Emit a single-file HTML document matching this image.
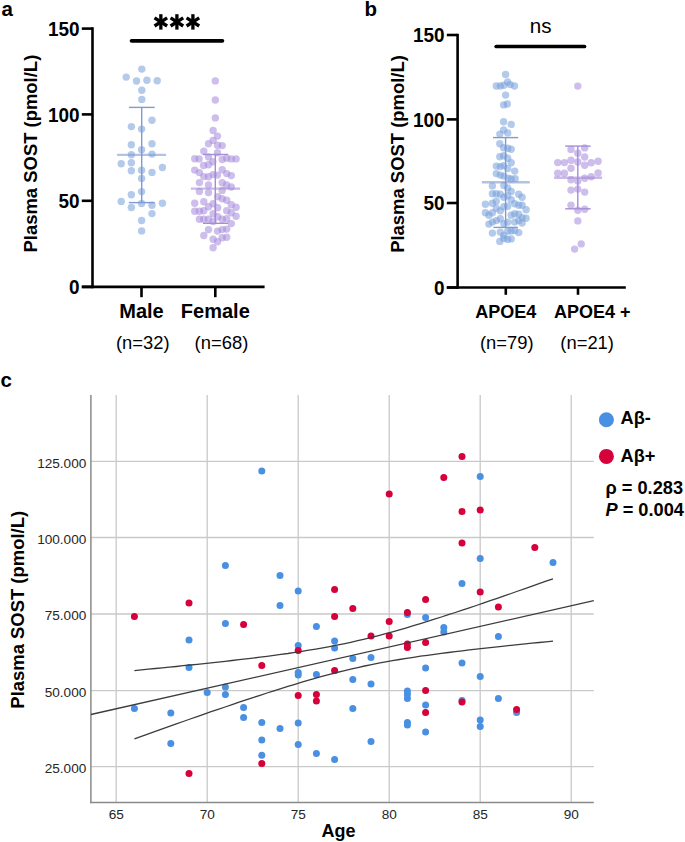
<!DOCTYPE html>
<html><head><meta charset="utf-8"><style>
html,body{margin:0;padding:0;background:#fff;}
body{width:685px;height:842px;overflow:hidden;font-family:"Liberation Sans",sans-serif;}
svg{display:block;}
</style></head><body>
<svg width="685" height="842" viewBox="0 0 685 842">
<rect width="685" height="842" fill="#fff"/>
<g font-family="Liberation Sans">
<text x="1.5" y="16.4" font-size="20.5" font-weight="bold" text-anchor="start" fill="#000" >a</text>
<line x1="92.5" y1="27.3" x2="92.5" y2="288.2" stroke="#000" stroke-width="2.6" stroke-linecap="butt"/>
<line x1="81.8" y1="28.6" x2="92.5" y2="28.6" stroke="#000" stroke-width="2.6" stroke-linecap="butt"/>
<text transform="translate(79.5,36.0) scale(0.92,1)" font-size="20.6" font-weight="bold" text-anchor="end">150</text>
<line x1="81.8" y1="114.4" x2="92.5" y2="114.4" stroke="#000" stroke-width="2.6" stroke-linecap="butt"/>
<text transform="translate(79.5,121.8) scale(0.92,1)" font-size="20.6" font-weight="bold" text-anchor="end">100</text>
<line x1="81.8" y1="200.8" x2="92.5" y2="200.8" stroke="#000" stroke-width="2.6" stroke-linecap="butt"/>
<text transform="translate(79.5,208.2) scale(0.92,1)" font-size="20.6" font-weight="bold" text-anchor="end">50</text>
<line x1="81.8" y1="286.9" x2="92.5" y2="286.9" stroke="#000" stroke-width="2.6" stroke-linecap="butt"/>
<text transform="translate(79.5,294.3) scale(0.92,1)" font-size="20.6" font-weight="bold" text-anchor="end">0</text>
<line x1="81.8" y1="286.9" x2="264.6" y2="286.9" stroke="#000" stroke-width="2.6" stroke-linecap="butt"/>
<line x1="141.5" y1="286.9" x2="141.5" y2="297.2" stroke="#000" stroke-width="2.6" stroke-linecap="butt"/>
<line x1="215.3" y1="286.9" x2="215.3" y2="297.2" stroke="#000" stroke-width="2.6" stroke-linecap="butt"/>
<text x="141.5" y="317.6" font-size="20" font-weight="bold" text-anchor="middle" fill="#000" >Male</text>
<text x="215.3" y="317.6" font-size="20" font-weight="bold" text-anchor="middle" fill="#000" >Female</text>
<text x="116.0" y="348.6" font-size="18.4" font-weight="normal" text-anchor="start" fill="#000" >(n=32)</text>
<text x="194.6" y="348.6" font-size="18.4" font-weight="normal" text-anchor="start" fill="#000" >(n=68)</text>
<text transform="translate(36.6,153.6) rotate(-90)" font-size="18.45" font-weight="bold" text-anchor="middle">Plasma SOST (pmol/L)</text>
<line x1="131.6" y1="40.8" x2="222.4" y2="40.8" stroke="#000" stroke-width="3.8" stroke-linecap="round"/>
<line x1="160.85" y1="14.2" x2="160.85" y2="29.599999999999998" stroke="#000" stroke-width="3.3" stroke-linecap="butt"/>
<line x1="154.54999999999998" y1="17.808732162855684" x2="167.15" y2="25.991267837144314" stroke="#000" stroke-width="3.3" stroke-linecap="butt"/>
<line x1="154.54999999999998" y1="25.991267837144314" x2="167.15" y2="17.808732162855684" stroke="#000" stroke-width="3.3" stroke-linecap="butt"/>
<line x1="176.9" y1="14.2" x2="176.9" y2="29.599999999999998" stroke="#000" stroke-width="3.3" stroke-linecap="butt"/>
<line x1="170.6" y1="17.808732162855684" x2="183.20000000000002" y2="25.991267837144314" stroke="#000" stroke-width="3.3" stroke-linecap="butt"/>
<line x1="170.6" y1="25.991267837144314" x2="183.20000000000002" y2="17.808732162855684" stroke="#000" stroke-width="3.3" stroke-linecap="butt"/>
<line x1="192.9" y1="14.2" x2="192.9" y2="29.599999999999998" stroke="#000" stroke-width="3.3" stroke-linecap="butt"/>
<line x1="186.6" y1="17.808732162855684" x2="199.20000000000002" y2="25.991267837144314" stroke="#000" stroke-width="3.3" stroke-linecap="butt"/>
<line x1="186.6" y1="25.991267837144314" x2="199.20000000000002" y2="17.808732162855684" stroke="#000" stroke-width="3.3" stroke-linecap="butt"/>
<g fill="rgb(119,159,219)" fill-opacity="0.55">
<circle cx="141.8" cy="69.1" r="3.7"/>
<circle cx="126.2" cy="77.1" r="3.7"/>
<circle cx="136.5" cy="81.0" r="3.7"/>
<circle cx="146.9" cy="80.3" r="3.7"/>
<circle cx="157.2" cy="80.8" r="3.7"/>
<circle cx="141.8" cy="90.2" r="3.7"/>
<circle cx="141.8" cy="99.4" r="3.7"/>
<circle cx="152.0" cy="120.2" r="3.7"/>
<circle cx="131.35" cy="126.6" r="3.7"/>
<circle cx="141.6" cy="129.1" r="3.7"/>
<circle cx="131.35" cy="144.7" r="3.7"/>
<circle cx="152.0" cy="143.8" r="3.7"/>
<circle cx="141.6" cy="149.8" r="3.7"/>
<circle cx="131.35" cy="154.7" r="3.7"/>
<circle cx="152.0" cy="154.1" r="3.7"/>
<circle cx="121.2" cy="163.7" r="3.7"/>
<circle cx="131.35" cy="162.8" r="3.7"/>
<circle cx="162.4" cy="167.5" r="3.7"/>
<circle cx="131.35" cy="170.8" r="3.7"/>
<circle cx="141.6" cy="170.3" r="3.7"/>
<circle cx="152.0" cy="172.4" r="3.7"/>
<circle cx="141.6" cy="178.5" r="3.7"/>
<circle cx="141.6" cy="191.6" r="3.7"/>
<circle cx="131.35" cy="194.7" r="3.7"/>
<circle cx="121.2" cy="201.4" r="3.7"/>
<circle cx="141.6" cy="203.5" r="3.7"/>
<circle cx="152.0" cy="205.2" r="3.7"/>
<circle cx="162.4" cy="203.2" r="3.7"/>
<circle cx="131.35" cy="207.5" r="3.7"/>
<circle cx="152.0" cy="213.6" r="3.7"/>
<circle cx="141.6" cy="220.5" r="3.7"/>
<circle cx="141.6" cy="230.9" r="3.7"/>
</g>
<line x1="141.7" y1="107.4" x2="141.7" y2="202.6" stroke="#7f9bd0" stroke-width="1.4" stroke-linecap="butt"/>
<line x1="128.9" y1="107.4" x2="154.7" y2="107.4" stroke="#7f9bd0" stroke-width="1.4" stroke-linecap="butt"/>
<line x1="128.9" y1="202.6" x2="154.7" y2="202.6" stroke="#7f9bd0" stroke-width="1.4" stroke-linecap="butt"/>
<g opacity="0.6">
<line x1="117.1" y1="154.9" x2="166.1" y2="154.9" stroke="#7f9bd0" stroke-width="2.4" stroke-linecap="butt"/>
</g>
<g fill="rgb(164,137,219)" fill-opacity="0.55">
<circle cx="215.3" cy="80.9" r="3.7"/>
<circle cx="215.3" cy="100.0" r="3.7"/>
<circle cx="215.3" cy="117.9" r="3.7"/>
<circle cx="213.1" cy="130.5" r="3.7"/>
<circle cx="217.5" cy="136.1" r="3.7"/>
<circle cx="213.1" cy="140.4" r="3.7"/>
<circle cx="208.5" cy="143.8" r="3.7"/>
<circle cx="217.5" cy="145.3" r="3.7"/>
<circle cx="222.2" cy="145.6" r="3.7"/>
<circle cx="203.8" cy="151.3" r="3.7"/>
<circle cx="217.5" cy="152.8" r="3.7"/>
<circle cx="208.5" cy="156.9" r="3.7"/>
<circle cx="194.7" cy="158.7" r="3.7"/>
<circle cx="199.1" cy="158.9" r="3.7"/>
<circle cx="222.2" cy="159.5" r="3.7"/>
<circle cx="226.7" cy="158.2" r="3.7"/>
<circle cx="231.3" cy="158.9" r="3.7"/>
<circle cx="236.1" cy="158.9" r="3.7"/>
<circle cx="212.8" cy="161.7" r="3.7"/>
<circle cx="208.5" cy="164.7" r="3.7"/>
<circle cx="203.6" cy="165.5" r="3.7"/>
<circle cx="194.7" cy="170.1" r="3.7"/>
<circle cx="199.4" cy="172.6" r="3.7"/>
<circle cx="222.2" cy="169.7" r="3.7"/>
<circle cx="226.7" cy="173.6" r="3.7"/>
<circle cx="231.3" cy="175.6" r="3.7"/>
<circle cx="203.8" cy="176.6" r="3.7"/>
<circle cx="208.5" cy="176.8" r="3.7"/>
<circle cx="213.1" cy="174.6" r="3.7"/>
<circle cx="217.5" cy="175.1" r="3.7"/>
<circle cx="199.4" cy="182.6" r="3.7"/>
<circle cx="208.5" cy="185.0" r="3.7"/>
<circle cx="222.2" cy="182.8" r="3.7"/>
<circle cx="226.7" cy="185.0" r="3.7"/>
<circle cx="231.3" cy="187.0" r="3.7"/>
<circle cx="199.4" cy="191.4" r="3.7"/>
<circle cx="208.5" cy="192.6" r="3.7"/>
<circle cx="222.2" cy="190.4" r="3.7"/>
<circle cx="217.7" cy="196.8" r="3.7"/>
<circle cx="222.2" cy="198.8" r="3.7"/>
<circle cx="226.7" cy="200.3" r="3.7"/>
<circle cx="194.7" cy="203.3" r="3.7"/>
<circle cx="203.8" cy="201.8" r="3.7"/>
<circle cx="213.1" cy="203.8" r="3.7"/>
<circle cx="208.5" cy="206.7" r="3.7"/>
<circle cx="231.3" cy="204.8" r="3.7"/>
<circle cx="236.1" cy="207.2" r="3.7"/>
<circle cx="194.7" cy="211.2" r="3.7"/>
<circle cx="199.4" cy="211.2" r="3.7"/>
<circle cx="203.8" cy="210.7" r="3.7"/>
<circle cx="217.7" cy="207.7" r="3.7"/>
<circle cx="213.1" cy="213.7" r="3.7"/>
<circle cx="226.7" cy="210.7" r="3.7"/>
<circle cx="231.3" cy="212.7" r="3.7"/>
<circle cx="236.1" cy="216.2" r="3.7"/>
<circle cx="199.4" cy="219.2" r="3.7"/>
<circle cx="203.8" cy="219.2" r="3.7"/>
<circle cx="208.5" cy="219.2" r="3.7"/>
<circle cx="213.1" cy="221.6" r="3.7"/>
<circle cx="217.7" cy="216.7" r="3.7"/>
<circle cx="222.2" cy="219.2" r="3.7"/>
<circle cx="226.7" cy="218.7" r="3.7"/>
<circle cx="231.3" cy="223.6" r="3.7"/>
<circle cx="208.5" cy="229.6" r="3.7"/>
<circle cx="217.5" cy="231.1" r="3.7"/>
<circle cx="222.2" cy="229.6" r="3.7"/>
<circle cx="226.7" cy="229.1" r="3.7"/>
<circle cx="203.8" cy="235.5" r="3.7"/>
<circle cx="213.1" cy="239.3" r="3.7"/>
<circle cx="217.5" cy="241.8" r="3.7"/>
<circle cx="222.2" cy="237.8" r="3.7"/>
<circle cx="226.7" cy="237.3" r="3.7"/>
<circle cx="213.1" cy="247.7" r="3.7"/>
</g>
<line x1="215.3" y1="154.5" x2="215.3" y2="223.3" stroke="#a58cd7" stroke-width="1.4" stroke-linecap="butt"/>
<line x1="203.0" y1="154.5" x2="228.2" y2="154.5" stroke="#a58cd7" stroke-width="1.4" stroke-linecap="butt"/>
<line x1="203.0" y1="223.3" x2="228.2" y2="223.3" stroke="#a58cd7" stroke-width="1.4" stroke-linecap="butt"/>
<g opacity="0.6">
<line x1="190.9" y1="188.6" x2="240.1" y2="188.6" stroke="#a58cd7" stroke-width="2.4" stroke-linecap="butt"/>
</g>
<text x="364.5" y="16.4" font-size="20.5" font-weight="bold" text-anchor="start" fill="#000" >b</text>
<line x1="457.6" y1="33.8" x2="457.6" y2="288.8" stroke="#000" stroke-width="2.6" stroke-linecap="butt"/>
<line x1="446.8" y1="35.0" x2="457.6" y2="35.0" stroke="#000" stroke-width="2.6" stroke-linecap="butt"/>
<text transform="translate(444.6,42.4) scale(0.92,1)" font-size="20.6" font-weight="bold" text-anchor="end">150</text>
<line x1="446.8" y1="119.4" x2="457.6" y2="119.4" stroke="#000" stroke-width="2.6" stroke-linecap="butt"/>
<text transform="translate(444.6,126.8) scale(0.92,1)" font-size="20.6" font-weight="bold" text-anchor="end">100</text>
<line x1="446.8" y1="203.0" x2="457.6" y2="203.0" stroke="#000" stroke-width="2.6" stroke-linecap="butt"/>
<text transform="translate(444.6,210.4) scale(0.92,1)" font-size="20.6" font-weight="bold" text-anchor="end">50</text>
<line x1="446.8" y1="287.5" x2="457.6" y2="287.5" stroke="#000" stroke-width="2.6" stroke-linecap="butt"/>
<text transform="translate(444.6,294.9) scale(0.92,1)" font-size="20.6" font-weight="bold" text-anchor="end">0</text>
<line x1="446.8" y1="287.5" x2="625.8" y2="287.5" stroke="#000" stroke-width="2.6" stroke-linecap="butt"/>
<line x1="505.8" y1="287.5" x2="505.8" y2="294.8" stroke="#000" stroke-width="2.6" stroke-linecap="butt"/>
<line x1="578.0" y1="287.5" x2="578.0" y2="294.8" stroke="#000" stroke-width="2.6" stroke-linecap="butt"/>
<text x="505.8" y="318.2" font-size="18" font-weight="bold" text-anchor="middle" fill="#000" >APOE4</text>
<text x="554.0" y="318.2" font-size="18" font-weight="bold" text-anchor="start" fill="#000" >APOE4 +</text>
<text x="480.0" y="348.6" font-size="18.4" font-weight="normal" text-anchor="start" fill="#000" >(n=79)</text>
<text x="560.3" y="348.6" font-size="18.4" font-weight="normal" text-anchor="start" fill="#000" >(n=21)</text>
<text transform="translate(404.2,154) rotate(-90)" font-size="18.45" font-weight="bold" text-anchor="middle">Plasma SOST (pmol/L)</text>
<line x1="496.2" y1="46.5" x2="584.5" y2="46.5" stroke="#000" stroke-width="3.7" stroke-linecap="round"/>
<text x="540.6" y="33.3" font-size="20.6" font-weight="normal" text-anchor="middle" fill="#000" >ns</text>
<g fill="rgb(119,159,219)" fill-opacity="0.55">
<circle cx="505.6" cy="74.4" r="3.7"/>
<circle cx="507.6" cy="82.0" r="3.7"/>
<circle cx="496.3" cy="86.0" r="3.7"/>
<circle cx="500.3" cy="86.0" r="3.7"/>
<circle cx="503.8" cy="85.3" r="3.7"/>
<circle cx="510.2" cy="84.6" r="3.7"/>
<circle cx="514.5" cy="86.0" r="3.7"/>
<circle cx="505.6" cy="95.1" r="3.7"/>
<circle cx="503.6" cy="104.9" r="3.7"/>
<circle cx="507.3" cy="104.0" r="3.7"/>
<circle cx="503.6" cy="121.8" r="3.7"/>
<circle cx="511.2" cy="124.4" r="3.7"/>
<circle cx="503.6" cy="129.9" r="3.7"/>
<circle cx="507.7" cy="132.9" r="3.7"/>
<circle cx="499.8" cy="134.1" r="3.7"/>
<circle cx="499.8" cy="143.8" r="3.7"/>
<circle cx="503.6" cy="147.8" r="3.7"/>
<circle cx="507.7" cy="148.3" r="3.7"/>
<circle cx="511.2" cy="149.3" r="3.7"/>
<circle cx="499.8" cy="156.7" r="3.7"/>
<circle cx="503.6" cy="155.7" r="3.7"/>
<circle cx="507.7" cy="158.2" r="3.7"/>
<circle cx="511.2" cy="162.7" r="3.7"/>
<circle cx="496.3" cy="166.1" r="3.7"/>
<circle cx="500.3" cy="166.6" r="3.7"/>
<circle cx="503.6" cy="165.6" r="3.7"/>
<circle cx="507.7" cy="168.6" r="3.7"/>
<circle cx="514.7" cy="171.1" r="3.7"/>
<circle cx="496.3" cy="173.6" r="3.7"/>
<circle cx="500.3" cy="175.1" r="3.7"/>
<circle cx="503.8" cy="176.1" r="3.7"/>
<circle cx="508.2" cy="178.1" r="3.7"/>
<circle cx="511.2" cy="179.0" r="3.7"/>
<circle cx="515.2" cy="178.6" r="3.7"/>
<circle cx="492.4" cy="185.9" r="3.7"/>
<circle cx="503.8" cy="185.4" r="3.7"/>
<circle cx="507.7" cy="187.9" r="3.7"/>
<circle cx="511.2" cy="191.4" r="3.7"/>
<circle cx="492.4" cy="193.8" r="3.7"/>
<circle cx="496.3" cy="193.8" r="3.7"/>
<circle cx="500.3" cy="194.3" r="3.7"/>
<circle cx="503.8" cy="197.3" r="3.7"/>
<circle cx="507.7" cy="195.8" r="3.7"/>
<circle cx="518.7" cy="194.3" r="3.7"/>
<circle cx="522.1" cy="197.3" r="3.7"/>
<circle cx="485.4" cy="204.3" r="3.7"/>
<circle cx="492.4" cy="203.3" r="3.7"/>
<circle cx="496.3" cy="201.3" r="3.7"/>
<circle cx="511.2" cy="199.8" r="3.7"/>
<circle cx="514.7" cy="203.8" r="3.7"/>
<circle cx="518.7" cy="205.3" r="3.7"/>
<circle cx="522.1" cy="205.3" r="3.7"/>
<circle cx="503.8" cy="206.7" r="3.7"/>
<circle cx="507.7" cy="206.2" r="3.7"/>
<circle cx="526.1" cy="209.7" r="3.7"/>
<circle cx="496.3" cy="208.2" r="3.7"/>
<circle cx="500.3" cy="210.7" r="3.7"/>
<circle cx="485.4" cy="212.7" r="3.7"/>
<circle cx="488.9" cy="215.2" r="3.7"/>
<circle cx="492.4" cy="212.7" r="3.7"/>
<circle cx="511.2" cy="215.2" r="3.7"/>
<circle cx="514.7" cy="213.7" r="3.7"/>
<circle cx="518.7" cy="214.2" r="3.7"/>
<circle cx="522.1" cy="217.7" r="3.7"/>
<circle cx="526.1" cy="218.2" r="3.7"/>
<circle cx="488.9" cy="224.1" r="3.7"/>
<circle cx="492.4" cy="222.1" r="3.7"/>
<circle cx="496.3" cy="220.6" r="3.7"/>
<circle cx="500.3" cy="218.7" r="3.7"/>
<circle cx="503.8" cy="223.6" r="3.7"/>
<circle cx="507.7" cy="222.1" r="3.7"/>
<circle cx="514.7" cy="222.1" r="3.7"/>
<circle cx="518.7" cy="220.6" r="3.7"/>
<circle cx="522.1" cy="223.1" r="3.7"/>
<circle cx="492.4" cy="233.1" r="3.7"/>
<circle cx="500.3" cy="232.1" r="3.7"/>
<circle cx="507.7" cy="231.1" r="3.7"/>
<circle cx="511.2" cy="231.1" r="3.7"/>
<circle cx="514.7" cy="230.6" r="3.7"/>
<circle cx="518.7" cy="232.6" r="3.7"/>
<circle cx="503.8" cy="235.5" r="3.7"/>
<circle cx="499.8" cy="241.4" r="3.7"/>
<circle cx="503.8" cy="238.4" r="3.7"/>
<circle cx="507.7" cy="239.4" r="3.7"/>
<circle cx="511.2" cy="238.9" r="3.7"/>
</g>
<line x1="505.6" y1="137.6" x2="505.6" y2="227.4" stroke="#7f9bd0" stroke-width="1.4" stroke-linecap="butt"/>
<line x1="493.0" y1="137.6" x2="518.2" y2="137.6" stroke="#7f9bd0" stroke-width="1.4" stroke-linecap="butt"/>
<line x1="493.4" y1="227.4" x2="517.9" y2="227.4" stroke="#7f9bd0" stroke-width="1.4" stroke-linecap="butt"/>
<g opacity="0.6">
<line x1="481.9" y1="182.3" x2="529.8" y2="182.3" stroke="#7f9bd0" stroke-width="2.4" stroke-linecap="butt"/>
</g>
<g fill="rgb(164,137,219)" fill-opacity="0.55">
<circle cx="577.8" cy="86.1" r="3.7"/>
<circle cx="571.0" cy="149.4" r="3.7"/>
<circle cx="584.7" cy="147.9" r="3.7"/>
<circle cx="577.8" cy="153.3" r="3.7"/>
<circle cx="584.7" cy="157.0" r="3.7"/>
<circle cx="557.7" cy="162.6" r="3.7"/>
<circle cx="564.4" cy="162.6" r="3.7"/>
<circle cx="571.0" cy="160.3" r="3.7"/>
<circle cx="577.8" cy="162.0" r="3.7"/>
<circle cx="584.7" cy="165.3" r="3.7"/>
<circle cx="591.2" cy="162.8" r="3.7"/>
<circle cx="598.1" cy="161.3" r="3.7"/>
<circle cx="571.0" cy="168.2" r="3.7"/>
<circle cx="557.7" cy="173.2" r="3.7"/>
<circle cx="564.4" cy="173.2" r="3.7"/>
<circle cx="598.1" cy="172.9" r="3.7"/>
<circle cx="571.0" cy="179.7" r="3.7"/>
<circle cx="577.8" cy="181.1" r="3.7"/>
<circle cx="584.7" cy="178.2" r="3.7"/>
<circle cx="591.2" cy="176.7" r="3.7"/>
<circle cx="571.0" cy="190.1" r="3.7"/>
<circle cx="577.8" cy="189.1" r="3.7"/>
<circle cx="584.7" cy="192.1" r="3.7"/>
<circle cx="571.0" cy="205.3" r="3.7"/>
<circle cx="577.8" cy="210.3" r="3.7"/>
<circle cx="584.7" cy="209.3" r="3.7"/>
<circle cx="577.8" cy="220.9" r="3.7"/>
<circle cx="581.2" cy="243.9" r="3.7"/>
<circle cx="574.6" cy="249.1" r="3.7"/>
</g>
<line x1="577.8" y1="146.1" x2="577.8" y2="208.8" stroke="#a58cd7" stroke-width="1.4" stroke-linecap="butt"/>
<line x1="565.2" y1="146.1" x2="590.6" y2="146.1" stroke="#a58cd7" stroke-width="1.4" stroke-linecap="butt"/>
<line x1="565.2" y1="208.8" x2="590.6" y2="208.8" stroke="#a58cd7" stroke-width="1.4" stroke-linecap="butt"/>
<g opacity="0.6">
<line x1="554.1" y1="177.7" x2="602.1" y2="177.7" stroke="#a58cd7" stroke-width="2.4" stroke-linecap="butt"/>
</g>
<text x="0.5" y="386.9" font-size="20.5" font-weight="bold" text-anchor="start" fill="#000" >c</text>
<line x1="116.2" y1="395.0" x2="116.2" y2="802.6" stroke="#c9c9c9" stroke-width="1.3" stroke-linecap="butt"/>
<line x1="207.2" y1="395.0" x2="207.2" y2="802.6" stroke="#c9c9c9" stroke-width="1.3" stroke-linecap="butt"/>
<line x1="298.2" y1="395.0" x2="298.2" y2="802.6" stroke="#c9c9c9" stroke-width="1.3" stroke-linecap="butt"/>
<line x1="389.2" y1="395.0" x2="389.2" y2="802.6" stroke="#c9c9c9" stroke-width="1.3" stroke-linecap="butt"/>
<line x1="480.2" y1="395.0" x2="480.2" y2="802.6" stroke="#c9c9c9" stroke-width="1.3" stroke-linecap="butt"/>
<line x1="571.2" y1="395.0" x2="571.2" y2="802.6" stroke="#c9c9c9" stroke-width="1.3" stroke-linecap="butt"/>
<line x1="90.9" y1="461.3" x2="593.8" y2="461.3" stroke="#c9c9c9" stroke-width="1.3" stroke-linecap="butt"/>
<text x="86.3" y="467.6" font-size="13.6" font-weight="normal" text-anchor="end" fill="#262626" >125.000</text>
<line x1="90.9" y1="537.5" x2="593.8" y2="537.5" stroke="#c9c9c9" stroke-width="1.3" stroke-linecap="butt"/>
<text x="86.3" y="543.8" font-size="13.6" font-weight="normal" text-anchor="end" fill="#262626" >100.000</text>
<line x1="90.9" y1="614.0" x2="593.8" y2="614.0" stroke="#c9c9c9" stroke-width="1.3" stroke-linecap="butt"/>
<text x="86.3" y="620.3" font-size="13.6" font-weight="normal" text-anchor="end" fill="#262626" >75.000</text>
<line x1="90.9" y1="690.6" x2="593.8" y2="690.6" stroke="#c9c9c9" stroke-width="1.3" stroke-linecap="butt"/>
<text x="86.3" y="696.9" font-size="13.6" font-weight="normal" text-anchor="end" fill="#262626" >50.000</text>
<line x1="90.9" y1="766.6" x2="593.8" y2="766.6" stroke="#c9c9c9" stroke-width="1.3" stroke-linecap="butt"/>
<text x="86.3" y="772.9" font-size="13.6" font-weight="normal" text-anchor="end" fill="#262626" >25.000</text>
<line x1="90.9" y1="395.0" x2="90.9" y2="803.3000000000001" stroke="#8a8a8a" stroke-width="1.5" stroke-linecap="butt"/>
<line x1="90.2" y1="802.6" x2="593.8" y2="802.6" stroke="#8a8a8a" stroke-width="1.5" stroke-linecap="butt"/>
<text x="116.2" y="819.1" font-size="13.6" font-weight="normal" text-anchor="middle" fill="#262626" >65</text>
<text x="207.2" y="819.1" font-size="13.6" font-weight="normal" text-anchor="middle" fill="#262626" >70</text>
<text x="298.2" y="819.1" font-size="13.6" font-weight="normal" text-anchor="middle" fill="#262626" >75</text>
<text x="389.2" y="819.1" font-size="13.6" font-weight="normal" text-anchor="middle" fill="#262626" >80</text>
<text x="480.2" y="819.1" font-size="13.6" font-weight="normal" text-anchor="middle" fill="#262626" >85</text>
<text x="571.2" y="819.1" font-size="13.6" font-weight="normal" text-anchor="middle" fill="#262626" >90</text>
<text x="338.6" y="836.6" font-size="18" font-weight="bold" text-anchor="middle" fill="#000" >Age</text>
<text transform="translate(23.9,609.8) rotate(-90)" font-size="18.45" font-weight="bold" text-anchor="middle">Plasma SOST (pmol/L)</text>
<g fill="#4a90e2">
<circle cx="134.4" cy="708.6" r="3.5"/>
<circle cx="170.8" cy="713" r="3.5"/>
<circle cx="170.8" cy="743.6" r="3.5"/>
<circle cx="189.0" cy="640" r="3.5"/>
<circle cx="189.0" cy="667.4" r="3.5"/>
<circle cx="207.2" cy="692.6" r="3.5"/>
<circle cx="225.4" cy="565.6" r="3.5"/>
<circle cx="225.4" cy="623.4" r="3.5"/>
<circle cx="225.4" cy="687" r="3.5"/>
<circle cx="225.4" cy="694.6" r="3.5"/>
<circle cx="243.6" cy="707.6" r="3.5"/>
<circle cx="243.6" cy="717.6" r="3.5"/>
<circle cx="261.8" cy="471" r="3.5"/>
<circle cx="261.8" cy="722.6" r="3.5"/>
<circle cx="261.8" cy="740" r="3.5"/>
<circle cx="261.8" cy="755.2" r="3.5"/>
<circle cx="280.0" cy="575.6" r="3.5"/>
<circle cx="280.0" cy="605.6" r="3.5"/>
<circle cx="280.0" cy="728.6" r="3.5"/>
<circle cx="298.2" cy="591" r="3.5"/>
<circle cx="298.2" cy="645.6" r="3.5"/>
<circle cx="298.2" cy="672.4" r="3.5"/>
<circle cx="298.2" cy="675" r="3.5"/>
<circle cx="298.2" cy="723" r="3.5"/>
<circle cx="298.2" cy="744.6" r="3.5"/>
<circle cx="316.4" cy="626.6" r="3.5"/>
<circle cx="316.4" cy="674.4" r="3.5"/>
<circle cx="316.4" cy="753.6" r="3.5"/>
<circle cx="334.6" cy="641" r="3.5"/>
<circle cx="334.6" cy="648" r="3.5"/>
<circle cx="334.6" cy="759.4" r="3.5"/>
<circle cx="352.8" cy="658.6" r="3.5"/>
<circle cx="352.8" cy="679.6" r="3.5"/>
<circle cx="352.8" cy="708.4" r="3.5"/>
<circle cx="371.0" cy="657.6" r="3.5"/>
<circle cx="371.0" cy="684" r="3.5"/>
<circle cx="371.0" cy="741.4" r="3.5"/>
<circle cx="407.4" cy="614.4" r="3.5"/>
<circle cx="407.4" cy="691" r="3.5"/>
<circle cx="407.4" cy="694.4" r="3.5"/>
<circle cx="407.4" cy="698.4" r="3.5"/>
<circle cx="407.4" cy="722.6" r="3.5"/>
<circle cx="407.4" cy="725" r="3.5"/>
<circle cx="425.6" cy="617.4" r="3.5"/>
<circle cx="425.6" cy="668" r="3.5"/>
<circle cx="425.6" cy="705" r="3.5"/>
<circle cx="425.6" cy="732" r="3.5"/>
<circle cx="443.8" cy="627.4" r="3.5"/>
<circle cx="443.8" cy="632" r="3.5"/>
<circle cx="462.0" cy="583.6" r="3.5"/>
<circle cx="462.0" cy="663" r="3.5"/>
<circle cx="462.0" cy="700.6" r="3.5"/>
<circle cx="480.2" cy="476.6" r="3.5"/>
<circle cx="480.2" cy="558.4" r="3.5"/>
<circle cx="480.2" cy="676.4" r="3.5"/>
<circle cx="480.2" cy="720" r="3.5"/>
<circle cx="480.2" cy="726.4" r="3.5"/>
<circle cx="498.4" cy="636.6" r="3.5"/>
<circle cx="498.4" cy="698.4" r="3.5"/>
<circle cx="516.6" cy="712.4" r="3.5"/>
<circle cx="553.0" cy="562.4" r="3.5"/>
</g>
<g fill="#d6003a">
<circle cx="134.4" cy="616.4" r="3.5"/>
<circle cx="189.0" cy="603" r="3.5"/>
<circle cx="189.0" cy="773.4" r="3.5"/>
<circle cx="243.6" cy="624.6" r="3.5"/>
<circle cx="261.8" cy="665.4" r="3.5"/>
<circle cx="261.8" cy="763.6" r="3.5"/>
<circle cx="298.2" cy="650.4" r="3.5"/>
<circle cx="298.2" cy="695.6" r="3.5"/>
<circle cx="316.4" cy="694.4" r="3.5"/>
<circle cx="316.4" cy="701" r="3.5"/>
<circle cx="334.6" cy="589.4" r="3.5"/>
<circle cx="334.6" cy="616.4" r="3.5"/>
<circle cx="334.6" cy="670.4" r="3.5"/>
<circle cx="352.8" cy="608.4" r="3.5"/>
<circle cx="371.0" cy="636" r="3.5"/>
<circle cx="389.2" cy="494" r="3.5"/>
<circle cx="389.2" cy="621.4" r="3.5"/>
<circle cx="389.2" cy="636" r="3.5"/>
<circle cx="407.4" cy="612.6" r="3.5"/>
<circle cx="407.4" cy="644" r="3.5"/>
<circle cx="407.4" cy="647.4" r="3.5"/>
<circle cx="425.6" cy="599.6" r="3.5"/>
<circle cx="425.6" cy="642.4" r="3.5"/>
<circle cx="425.6" cy="690.4" r="3.5"/>
<circle cx="425.6" cy="712.4" r="3.5"/>
<circle cx="443.8" cy="477.4" r="3.5"/>
<circle cx="462.0" cy="456.4" r="3.5"/>
<circle cx="462.0" cy="511.4" r="3.5"/>
<circle cx="462.0" cy="543" r="3.5"/>
<circle cx="462.0" cy="702" r="3.5"/>
<circle cx="480.2" cy="510" r="3.5"/>
<circle cx="480.2" cy="592" r="3.5"/>
<circle cx="498.4" cy="607" r="3.5"/>
<circle cx="516.6" cy="709.4" r="3.5"/>
<circle cx="534.8" cy="547.4" r="3.5"/>
</g>
<line x1="90.9" y1="714.5" x2="593.8" y2="600.69373" stroke="#3c3c3c" stroke-width="1.3" stroke-linecap="butt"/>
<polyline points="134.4,670.6 141.4,669.9 148.4,669.2 155.3,668.5 162.3,667.8 169.3,667.2 176.3,666.5 183.2,665.7 190.2,665.0 197.2,664.3 204.2,663.6 211.1,662.8 218.1,662.1 225.1,661.3 232.1,660.5 239.1,659.7 246.0,658.9 253.0,658.1 260.0,657.2 267.0,656.3 273.9,655.4 280.9,654.4 287.9,653.5 294.9,652.4 301.8,651.4 308.8,650.2 315.8,649.1 322.8,647.9 329.7,646.6 336.7,645.2 343.7,643.8 350.7,642.3 357.7,640.7 364.6,639.1 371.6,637.4 378.6,635.6 385.6,633.7 392.5,631.8 399.5,629.8 406.5,627.8 413.5,625.7 420.4,623.6 427.4,621.4 434.4,619.2 441.4,617.0 448.4,614.7 455.3,612.5 462.3,610.1 469.3,607.8 476.3,605.5 483.2,603.1 490.2,600.7 497.2,598.3 504.2,595.9 511.1,593.5 518.1,591.0 525.1,588.6 532.1,586.1 539.0,583.7 546.0,581.2 553.0,578.8" fill="none" stroke="#3c3c3c" stroke-width="1.3"/>
<polyline points="134.4,738.8 141.4,736.3 148.4,733.8 155.3,731.3 162.3,728.8 169.3,726.4 176.3,723.9 183.2,721.5 190.2,719.0 197.2,716.6 204.2,714.2 211.1,711.7 218.1,709.3 225.1,707.0 232.1,704.6 239.1,702.2 246.0,699.9 253.0,697.6 260.0,695.3 267.0,693.0 273.9,690.8 280.9,688.6 287.9,686.4 294.9,684.3 301.8,682.2 308.8,680.1 315.8,678.1 322.8,676.2 329.7,674.3 336.7,672.5 343.7,670.8 350.7,669.1 357.7,667.6 364.6,666.0 371.6,664.6 378.6,663.2 385.6,661.9 392.5,660.7 399.5,659.5 406.5,658.4 413.5,657.3 420.4,656.2 427.4,655.3 434.4,654.3 441.4,653.4 448.4,652.5 455.3,651.6 462.3,650.8 469.3,649.9 476.3,649.1 483.2,648.3 490.2,647.6 497.2,646.8 504.2,646.1 511.1,645.3 518.1,644.6 525.1,643.9 532.1,643.2 539.0,642.5 546.0,641.8 553.0,641.1" fill="none" stroke="#3c3c3c" stroke-width="1.3"/>
<circle cx="606.4" cy="419.7" r="7.5" fill="#4a90e2"/>
<circle cx="606.4" cy="456.4" r="7.5" fill="#d6003a"/>
<text x="620.6" y="423.5" font-size="18.2" font-weight="bold" text-anchor="start" fill="#000" >A&#946;-</text>
<text x="620.6" y="461.5" font-size="18.2" font-weight="bold" text-anchor="start" fill="#000" >A&#946;+</text>
<text x="605.5" y="494.2" font-size="18.2" font-weight="bold" text-anchor="start" fill="#000" >&#961; = 0.283</text>
<text x="605.5" y="515.8" font-size="18.2" font-weight="bold"><tspan font-style="italic">P</tspan> = 0.004</text>
</g></svg>
</body></html>
